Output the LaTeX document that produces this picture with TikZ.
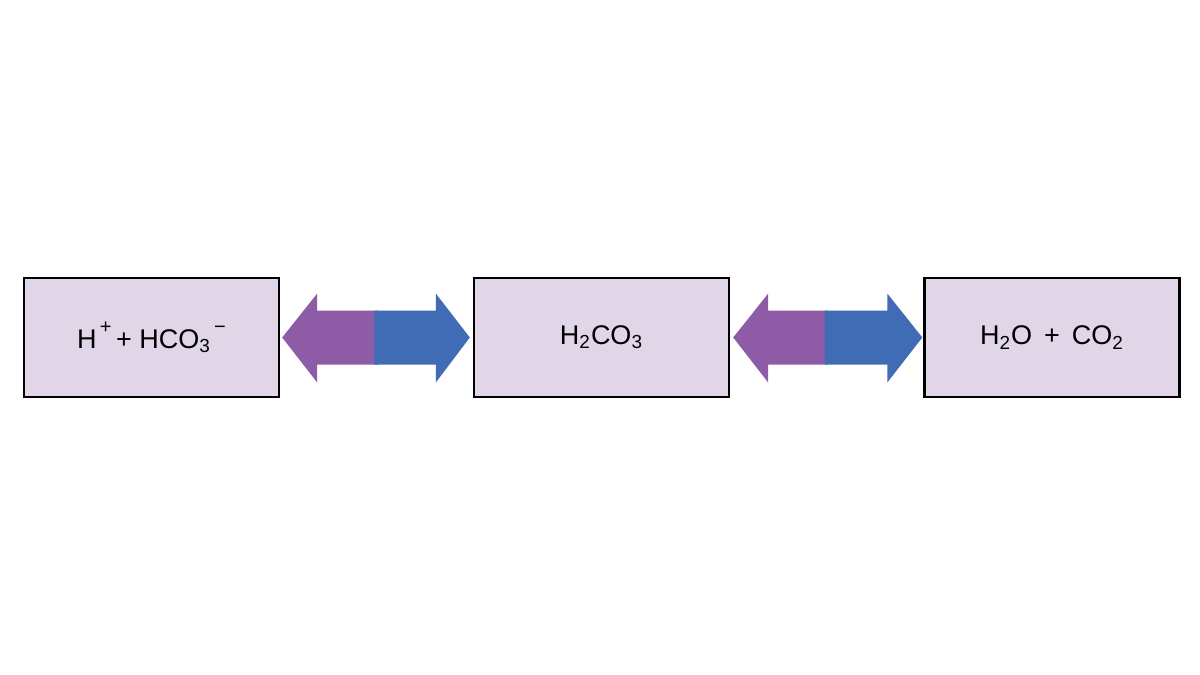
\documentclass[tikz,border=0pt]{standalone}
\usepackage{fontspec}
\setmainfont{Liberation Sans}
\usetikzlibrary{calc}
\definecolor{boxfill}{HTML}{E0D6E8}
\definecolor{arrpurple}{HTML}{8E5BA6}
\definecolor{arrblue}{HTML}{3F6CB5}
\newcommand{\upsc}[1]{\raisebox{1.0ex}{\fontsize{10pt}{11pt}\selectfont #1}}
\begin{document}
\begin{tikzpicture}[x=0.5pt,y=-0.5pt]
\tikzset{
  species/.style={draw=black, line width=1.2pt, fill=boxfill, minimum width=127.5pt, minimum height=59.5pt, inner sep=0pt, font=\fontsize{13.5pt}{15pt}\selectfont},
  lefthalf/.style={fill=arrpurple, draw=none},
  righthalf/.style={fill=arrblue, draw=none}
}
\useasboundingbox[fill=white] (0,0) rectangle (1200,675);
\node[species] (b1) at (151.5,337.5) {H\upsc{\,+}\,+ HCO\textsubscript{3}\upsc{\,−}};
\node[species] (b2) at (601.5,337.5) {H\textsubscript{2}CO\textsubscript{3}};
\node[species] (b3) at (1052,337.5) {H\textsubscript{2}O \,+\, CO\textsubscript{2}};
% arrow between b1 and b2
\coordinate (a1l) at ($(b1.east)+(2,0)$);
\coordinate (a1r) at ($(b2.west)+(-3,0)$);
\fill[lefthalf] (a1l) -- ($(a1l)+(35,-44)$) -- ($(a1l)+(35,-27)$) -- ($(a1l)+(96,-27)$) -- ($(a1l)+(96,27)$) -- ($(a1l)+(35,27)$) -- ($(a1l)+(35,45)$) -- cycle;
\fill[righthalf] (a1r) -- ($(a1r)+(-34,-44)$) -- ($(a1r)+(-34,-27)$) -- ($(a1r)+(-95.5,-27)$) -- ($(a1r)+(-95.5,27)$) -- ($(a1r)+(-34,27)$) -- ($(a1r)+(-34,45)$) -- cycle;
% arrow between b2 and b3
\coordinate (a2l) at ($(b2.east)+(3,0)$);
\coordinate (a2r) at ($(b3.west)+(-1,0)$);
\fill[lefthalf] (a2l) -- ($(a2l)+(35,-44)$) -- ($(a2l)+(35,-27)$) -- ($(a2l)+(94.5,-27)$) -- ($(a2l)+(94.5,27)$) -- ($(a2l)+(35,27)$) -- ($(a2l)+(35,45)$) -- cycle;
\fill[righthalf] (a2r) -- ($(a2r)+(-35,-44)$) -- ($(a2r)+(-35,-27)$) -- ($(a2r)+(-97.5,-27)$) -- ($(a2r)+(-97.5,27)$) -- ($(a2r)+(-35,27)$) -- ($(a2r)+(-35,45)$) -- cycle;
\end{tikzpicture}
\end{document}
